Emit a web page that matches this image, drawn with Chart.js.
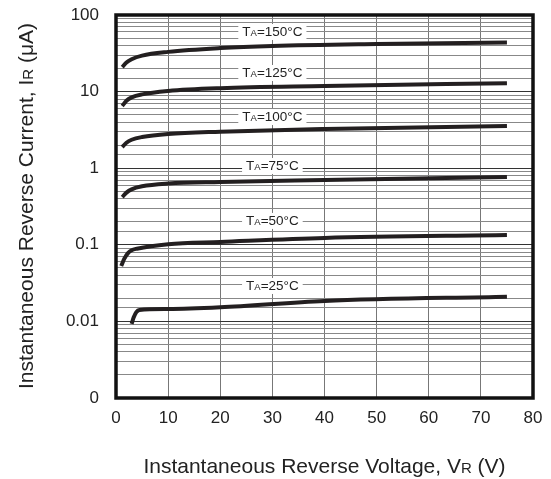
<!DOCTYPE html>
<html>
<head>
<meta charset="utf-8">
<script src="https://cdn.jsdelivr.net/npm/chart.js@4/dist/chart.umd.min.js"></script>
<style>
  html, body { margin: 0; padding: 0; background: #fff; }
  #wrap { width: 551px; height: 479px; }
</style>
</head>
<body>
<div id="wrap"><canvas id="ir-chart"></canvas></div>
<script>
// reverse current (uA) vs reverse voltage (V), one curve per ambient temperature
const temps = ["150", "125", "100", "75", "50", "25"];
const volts150 = [1.2, 2, 3, 5, 10, 20, 30, 50, 75];
const curr150 = [20.9, 24, 26.5, 29.5, 33, 37, 39.4, 41.8, 43.8];
const volts125 = [1.2, 2, 3, 5, 10, 20, 40, 75];
const curr125 = [6.5, 7.6, 8.4, 9.2, 10.2, 11.1, 11.8, 12.9];
const volts100 = [1.2, 2, 3, 5, 10, 20, 40, 75];
const curr100 = [1.89, 2.15, 2.35, 2.55, 2.8, 3.0, 3.25, 3.56];
const volts75 = [1.2, 2, 3, 5, 10, 20, 40, 75];
const curr75 = [0.42, 0.48, 0.53, 0.58, 0.63, 0.66, 0.7, 0.77];
const volts50 = [1, 1.6, 2.3, 3, 4, 10, 20, 40, 75];
const curr50 = [0.053, 0.066, 0.078, 0.085, 0.089, 0.102, 0.109, 0.123, 0.134];
const volts25 = [3, 3.4, 3.9, 4.5, 10, 20, 40, 75];
const curr25 = [0.0093, 0.0113, 0.0132, 0.0141, 0.0145, 0.0153, 0.0185, 0.021];

// where each temperature tag sits (x in V, y in uA)
const tagX = 30;
const tagY = [60, 17.5, 4.66, 1.07, 0.205, 0.029];

const xTicks = [0, 10, 20, 30, 40, 50, 60, 70, 80];
const yDecades = { 100: "100", 10: "10", 1: "1", 0.1: "0.1", 0.01: "0.01", 0.001: "0" };

const FONT = "'Liberation Sans', Arial, sans-serif";
const lineCol = "#231f20";

function pts(xs, ys) {
    return xs.map((x, i) => ({ x: x, y: ys[i] }));
}

const series = [
    pts(volts150, curr150),
    pts(volts125, curr125),
    pts(volts100, curr100),
    pts(volts75, curr75),
    pts(volts50, curr50),
    pts(volts25, curr25),
];

const frameAndText = {
    id: "frameAndText",
    beforeDatasetsDraw(chart) {
        const ctx = chart.ctx;
        const xs = chart.scales.x;
        const ys = chart.scales.y;
        ctx.save();
        ctx.textBaseline = "middle";
        temps.forEach((t, i) => {
            const cx = xs.getPixelForValue(tagX);
            const cy = ys.getPixelForValue(tagY[i]);
            const big = "13.5px " + FONT;
            const small = "9.5px " + FONT;
            ctx.font = big;
            const wT = ctx.measureText("T").width;
            const rest = "=" + t + "°C";
            const wR = ctx.measureText(rest).width;
            ctx.font = small;
            const wA = ctx.measureText("A").width;
            const w = wT + wA + wR;
            let x = cx - w / 2;
            ctx.fillStyle = "#fff";
            ctx.fillRect(x - 4, cy - 8, w + 8, 16);
            ctx.fillStyle = "#222";
            ctx.textAlign = "left";
            ctx.font = big;
            ctx.fillText("T", x, cy);
            ctx.font = small;
            ctx.fillText("A", x + wT, cy + 1.5);
            ctx.font = big;
            ctx.fillText(rest, x + wT + wA, cy);
        });
        ctx.restore();
    },
    afterDraw(chart) {
        const ctx = chart.ctx;
        const a = chart.chartArea;
        ctx.save();
        ctx.strokeStyle = "#111";
        ctx.lineWidth = 3.5;
        ctx.strokeRect(a.left, a.top, a.right - a.left, a.bottom - a.top);

        // axis titles, with the small subscript R
        ctx.fillStyle = "#222";
        ctx.textBaseline = "middle";
        drawSub(ctx, "Instantaneous Reverse Voltage, V", "R", " (V)", (a.left + a.right) / 2, 467);
        ctx.translate(27, 206);
        ctx.rotate(-Math.PI / 2);
        drawSub(ctx, "Instantaneous Reverse Current, I", "R", " (μA)", 0, 0);
        ctx.restore();
    },
};

function drawSub(ctx, a, b, c, cx, cy) {
    const big = "21px " + FONT;
    const small = "15px " + FONT;
    ctx.font = big;
    const wa = ctx.measureText(a).width;
    const wc = ctx.measureText(c).width;
    ctx.font = small;
    const wb = ctx.measureText(b).width;
    let x = cx - (wa + wb + wc) / 2;
    ctx.textAlign = "left";
    ctx.font = big;
    ctx.fillText(a, x, cy);
    ctx.font = small;
    ctx.fillText(b, x + wa, cy + 2);
    ctx.font = big;
    ctx.fillText(c, x + wa + wb, cy);
}

const chart = new Chart(document.getElementById("ir-chart"), {
    type: "line",
    data: {
        datasets: series.map((d, i) => ({
            label: temps[i],
            data: d,
            borderColor: lineCol,
            borderWidth: 4,
            pointRadius: 0,
            cubicInterpolationMode: "monotone",
            fill: false,
        })),
    },
    options: {
        responsive: true,
        maintainAspectRatio: false,
        animation: false,
        layout: { padding: { left: 0, top: 15, right: 18, bottom: 0 } },
        plugins: { legend: { display: false }, tooltip: { enabled: false } },
        scales: {
            x: {
                type: "linear",
                min: 0,
                max: 80,
                afterBuildTicks: (s) => { s.ticks = xTicks.map((v) => ({ value: v })); },
                afterFit: (s) => { s.height = 81; s.paddingLeft = 0; s.paddingRight = 0; },
                grid: { color: "#777", lineWidth: 1, drawTicks: false },
                border: { display: false },
                ticks: {
                    color: "#222",
                    font: { family: FONT, size: 17 },
                    padding: 10,
                    maxRotation: 0,
                },
            },
            y: {
                type: "logarithmic",
                min: 0.001,
                max: 100,
                afterFit: (s) => { s.width = 116; s.paddingTop = 0; s.paddingBottom = 0; },
                grid: {
                    color: (c) => (yDecades[c.tick.value] !== undefined ? "#333" : "#888"),
                    lineWidth: 1,
                    drawTicks: false,
                },
                border: { display: false },
                ticks: {
                    autoSkip: false,
                    color: "#222",
                    font: { family: FONT, size: 17 },
                    padding: 17,
                    callback: (v) => (yDecades[v] !== undefined ? yDecades[v] : ""),
                },
            },
        },
    },
    plugins: [frameAndText],
});
</script>
</body>
</html>
